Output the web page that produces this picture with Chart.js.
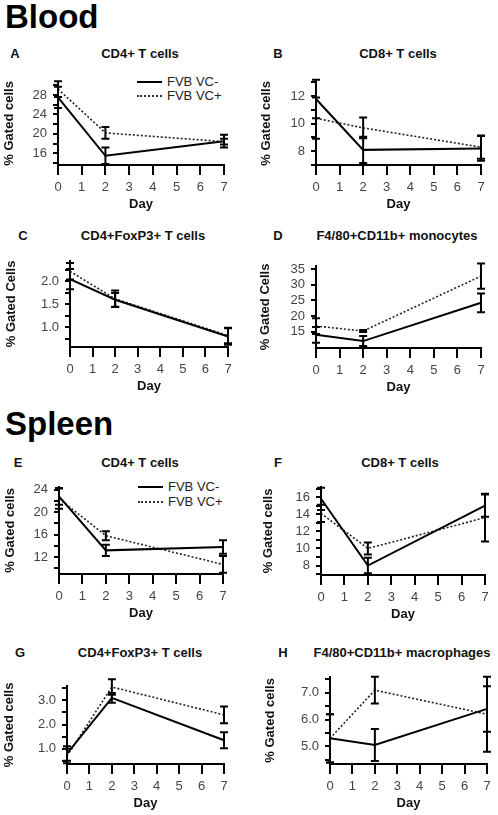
<!DOCTYPE html>
<html>
<head>
<meta charset="utf-8">
<script src="https://cdn.jsdelivr.net/npm/chart.js@4.4.1/dist/chart.umd.min.js"></script>
<style>
body{margin:0;background:#fff;font-family:"Liberation Sans",Arial,sans-serif}
#page{position:relative;width:498px;height:815px;overflow:hidden}
canvas{position:absolute}
.big{position:absolute;left:5px;font-weight:bold;font-size:33px;line-height:33px;color:#000}
.lt{position:absolute;font-weight:bold;font-size:13px;transform:translate(-50%,-50%);white-space:nowrap;color:#111}
.leg{position:absolute;font-size:13px;line-height:13px;color:#222}
.ln{position:absolute;width:25px;height:0;border-top:2px solid #000}
.ln.dot{border-top:2px dotted #333}
</style>
</head>
<body>
<div id="page">
  <div class="big" style="top:0px">Blood</div>
  <div class="big" style="top:407px">Spleen</div>

  <div class="lt" style="left:15px;top:53px">A</div>
  <div class="lt" style="left:140px;top:53px">CD4+ T cells</div>
  <div class="lt" style="left:278px;top:53px">B</div>
  <div class="lt" style="left:398px;top:53px">CD8+ T cells</div>
  <div class="lt" style="left:23px;top:235px">C</div>
  <div class="lt" style="left:143px;top:235px">CD4+FoxP3+ T cells</div>
  <div class="lt" style="left:278px;top:235px">D</div>
  <div class="lt" style="left:397px;top:235px">F4/80+CD11b+ monocytes</div>
  <div class="lt" style="left:18px;top:462px">E</div>
  <div class="lt" style="left:140px;top:462px">CD4+ T cells</div>
  <div class="lt" style="left:278px;top:462px">F</div>
  <div class="lt" style="left:400px;top:462px">CD8+ T cells</div>
  <div class="lt" style="left:20px;top:652px">G</div>
  <div class="lt" style="left:140px;top:652px">CD4+FoxP3+ T cells</div>
  <div class="lt" style="left:283px;top:652px">H</div>
  <div class="lt" style="left:402px;top:652px">F4/80+CD11b+ macrophages</div>

  <div class="ln" style="left:137px;top:81px"></div>
  <div class="leg" style="left:167px;top:75px">FVB VC-</div>
  <div class="ln dot" style="left:137px;top:95px"></div>
  <div class="leg" style="left:167px;top:89px">FVB VC+</div>

  <div class="ln" style="left:138px;top:486px"></div>
  <div class="leg" style="left:168px;top:480px">FVB VC-</div>
  <div class="ln dot" style="left:138px;top:501px"></div>
  <div class="leg" style="left:168px;top:495px">FVB VC+</div>
</div>

<script>
var days = [0, 2, 7]

// Blood
var aMinus = [27.5, 15.5, 18.5], aMinusErr = [2.2, 1.7, 1.3]
var aPlus = [29.2, 20.2, 18.4], aPlusErr = [1.6, 1.2, 0.6]
var bMinus = [11.8, 8.1, 8.2], bMinusErr = [1.4, 0.95, 0.9]
var bPlus = [10.4, 9.7, 8.3], bPlusErr = [1.5, 0.75, 0.85]
var cMinus = [2.05, 1.6, 0.8], cMinusErr = [0.22, 0.15, 0.18]
var cPlus = [2.22, 1.62, 0.82], cPlusErr = [0.18, 0.18, 0.17]
var dMinus = [14, 12, 24.2], dMinusErr = [2.5, 1.6, 3]
var dPlus = [16.8, 15.2, 32.7], dPlusErr = [2.5, 0.3, 4]

// Spleen
var eMinus = [22.8, 13.2, 13.8], eMinusErr = [1.5, 1.0, 1.2]
var ePlus = [22.4, 15.8, 10.7], ePlusErr = [1.8, 0.8, 1.5]
var fMinus = [15.8, 8.0, 15.0], fMinusErr = [1.3, 0.9, 1.3]
var fPlus = [14.1, 10.0, 13.6], fPlusErr = [1.0, 0.7, 2.8]
var gMinus = [0.8, 3.1, 1.35], gMinusErr = [0.3, 0.2, 0.33]
var gPlus = [0.7, 3.55, 2.4], gPlusErr = [0.3, 0.32, 0.35]
var hMinus = [5.3, 5.05, 6.4], hMinusErr = [0.9, 0.6, 0.85]
var hPlus = [5.3, 7.1, 6.2], hPlusErr = [0.9, 0.5, 1.4]

var font = '"Liberation Sans", Arial, sans-serif'

var panels = [
    {minus: aMinus, minusErr: aMinusErr, plus: aPlus, plusErr: aPlusErr, yMin: 13.6, yMax: 30.7, step: 2, major: 4, tickMin: 0, dec: 0, ytitle: '% Gated cells', cl: 0, left: 58, right: 224, top: 78, bottom: 165},
    {minus: bMinus, minusErr: bMinusErr, plus: bPlus, plusErr: bPlusErr, yMin: 7.0, yMax: 13.05, step: 1, major: 2, tickMin: 0, dec: 0, ytitle: '% Gated cells', cl: 257, left: 316, right: 481, top: 78, bottom: 165},
    {minus: cMinus, minusErr: cMinusErr, plus: cPlus, plusErr: cPlusErr, yMin: 0.57, yMax: 2.45, step: 0.25, major: 0.5, tickMin: 0, dec: 1, ytitle: '% Gated Cells', cl: 2, left: 70, right: 228, top: 257, bottom: 347},
    {minus: dMinus, minusErr: dMinusErr, plus: dPlus, plusErr: dPlusErr, yMin: 9.8, yMax: 36, step: 5, major: 5, tickMin: 15, dec: 0, ytitle: '% Gated Cells', cl: 256, left: 316, right: 481, top: 262, bottom: 348},
    {minus: eMinus, minusErr: eMinusErr, plus: ePlus, plusErr: ePlusErr, yMin: 9.0, yMax: 24.5, step: 2, major: 4, tickMin: 0, dec: 0, ytitle: '% Gated cells', cl: 1, left: 59, right: 223, top: 483, bottom: 574},
    {minus: fMinus, minusErr: fMinusErr, plus: fPlus, plusErr: fPlusErr, yMin: 6.9, yMax: 17.2, step: 1, major: 2, tickMin: 0, dec: 0, ytitle: '% Gated cells', cl: 259, left: 321, right: 485, top: 483, bottom: 575},
    {minus: gMinus, minusErr: gMinusErr, plus: gPlus, plusErr: gPlusErr, yMin: 0.37, yMax: 3.6, step: 0.5, major: 1, tickMin: 0, dec: 1, ytitle: '% Gated cells', cl: 0, left: 67, right: 224, top: 682, bottom: 764},
    {minus: hMinus, minusErr: hMinusErr, plus: hPlus, plusErr: hPlusErr, yMin: 4.34, yMax: 7.6, step: 0.5, major: 1, tickMin: 0, dec: 1, ytitle: '% Gated cells', cl: 261, left: 330, right: 487, top: 673, bottom: 764}
]

var padTop = 10, padRight = 12, xHeight = 47

// draws vertical error bars with caps from dataset.err
var errorBars = {
    id: 'errorBars',
    afterDatasetsDraw: function(chart){
        var ctx = chart.ctx
        var xs = chart.scales.x, ys = chart.scales.y
        ctx.save()
        ctx.strokeStyle = '#000'
        ctx.lineWidth = 2
        chart.data.datasets.forEach(function(ds){
            ds.data.forEach(function(p, i){
                var e = ds.err[i]
                var px = xs.getPixelForValue(p.x)
                var hi = ys.getPixelForValue(p.y + e)
                var lo = ys.getPixelForValue(p.y - e)
                ctx.beginPath()
                ctx.moveTo(px, hi); ctx.lineTo(px, lo)
                ctx.moveTo(px - 4, hi); ctx.lineTo(px + 4, hi)
                ctx.moveTo(px - 4, lo); ctx.lineTo(px + 4, lo)
                ctx.stroke()
            })
        })
        ctx.restore()
    }
}

function points(vals){
    return days.map(function(d, i){ return {x: d, y: vals[i]} })
}

function makeChart(p){
    var canvas = document.createElement('canvas')
    var w = p.right + padRight - p.cl
    var h = p.bottom - p.top + padTop + xHeight
    canvas.width = w
    canvas.height = h
    canvas.style.left = p.cl + 'px'
    canvas.style.top = (p.top - padTop) + 'px'
    document.getElementById('page').appendChild(canvas)
    var yw = p.left - p.cl

    new Chart(canvas, {
        type: 'line',
        data: {
            datasets: [
                {label: 'FVB VC-', data: points(p.minus), err: p.minusErr, borderColor: '#000', borderWidth: 2, pointRadius: 0, fill: false, tension: 0},
                {label: 'FVB VC+', data: points(p.plus), err: p.plusErr, borderColor: '#222', borderWidth: 1.6, borderDash: [2, 2], pointRadius: 0, fill: false, tension: 0}
            ]
        },
        options: {
            responsive: false,
            animation: false,
            clip: false,
            layout: {padding: {top: padTop, right: padRight, left: 0, bottom: 0}},
            plugins: {legend: {display: false}, tooltip: {enabled: false}},
            scales: {
                x: {
                    type: 'linear', min: 0, max: 7,
                    afterFit: function(s){ s.height = xHeight },
                    border: {color: '#000', width: 2},
                    grid: {drawOnChartArea: false, drawTicks: true, tickLength: 10, color: '#000', lineWidth: 2},
                    ticks: {stepSize: 1, autoSkip: false, maxRotation: 0, padding: 5, color: '#444', font: {family: font, size: 13}},
                    title: {display: true, text: 'Day', color: '#111', padding: {top: 1, bottom: 0}, font: {family: font, size: 13, weight: 'bold'}}
                },
                y: {
                    type: 'linear', min: p.yMin, max: p.yMax,
                    afterFit: function(s){ s.width = yw },
                    afterBuildTicks: function(s){
                        s.ticks = s.ticks.filter(function(t){ return t.value >= p.tickMin - 1e-6 })
                    },
                    border: {color: '#000', width: 2},
                    grid: {drawOnChartArea: false, drawTicks: true, tickLength: 5, color: '#000', lineWidth: 2},
                    ticks: {
                        stepSize: p.step, autoSkip: false, includeBounds: false, padding: 6, color: '#444',
                        font: {family: font, size: 13},
                        callback: function(v){
                            var r = v / p.major
                            if (Math.abs(r - Math.round(r)) < 1e-6) return v.toFixed(p.dec)
                            return ''
                        }
                    },
                    title: {display: true, text: p.ytitle, color: '#111', padding: {top: 2, bottom: 2}, font: {family: font, size: 13, weight: 'bold'}}
                }
            }
        },
        plugins: [errorBars]
    })
}

panels.forEach(makeChart)
</script>
</body>
</html>
